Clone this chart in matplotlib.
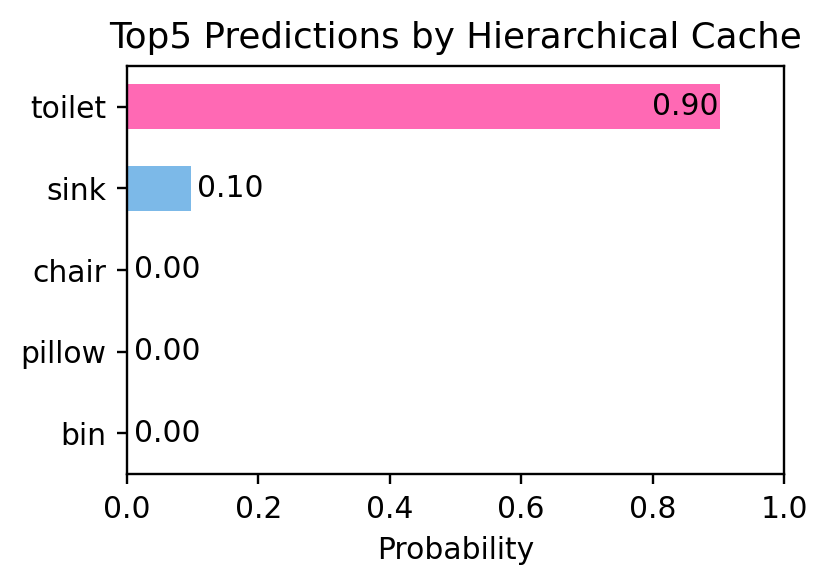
import matplotlib
matplotlib.use('Agg')
import matplotlib.pyplot as plt

labels = ['toilet', 'sink', 'chair', 'pillow', 'bin']
probs = [0.903, 0.097, 0.0, 0.0, 0.0]
colors = ['#ff69b4', '#7cb9e8', '#7cb9e8', '#7cb9e8', '#7cb9e8']

DPI = 214
fig = plt.figure(figsize=(829 / DPI, 585 / DPI), dpi=DPI)
ax = fig.add_axes([127 / 829, 111 / 585, 657 / 829, 408 / 585])

pos = list(range(len(labels)))
ax.barh(pos, probs, height=0.55, color=colors)
ax.set_yticks(pos)
ax.set_yticklabels(labels)
ax.set_ylim(len(labels) - 0.5, -0.5)
ax.set_xlim(0, 1)

for p, v in zip(pos, probs):
    if v > 0.5:
        ax.text(v - 0.003, p, f'{v:.2f}', ha='right', va='center', fontsize=10)
    else:
        ax.text(v + 0.01, p, f'{v:.2f}', ha='left', va='center', fontsize=10)

ax.set_xlabel('Probability')
ax.set_title('Top5 Predictions by Hierarchical Cache')
fig.savefig('out.png', dpi=DPI)
